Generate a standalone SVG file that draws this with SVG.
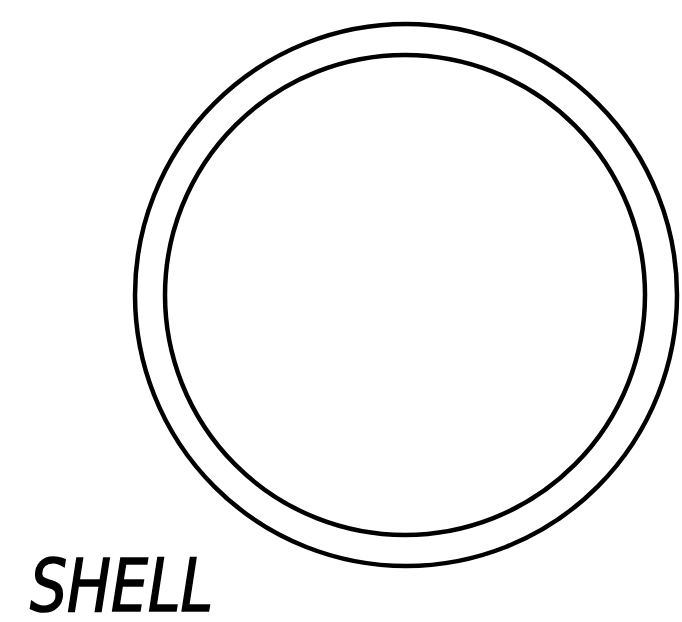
<svg xmlns="http://www.w3.org/2000/svg" width="682" height="622" viewBox="0 0 682 622">
<style>
.ring{fill:none;stroke:#000;stroke-width:4.5}
.lbl{font-family:"DejaVu Sans Condensed","DejaVu Sans",sans-serif;font-style:oblique;font-size:73px;fill:#000;stroke:#000;stroke-width:1.5}
</style>
<rect width="682" height="622" fill="#fff"/>
<g id="shell">
<circle class="ring" cx="406" cy="295" r="271"/>
<circle class="ring" cx="405" cy="295" r="240"/>
</g>
<g id="label">
<text class="lbl" x="30" y="611" textLength="183" lengthAdjust="spacingAndGlyphs">SHELL</text>
</g>
</svg>
